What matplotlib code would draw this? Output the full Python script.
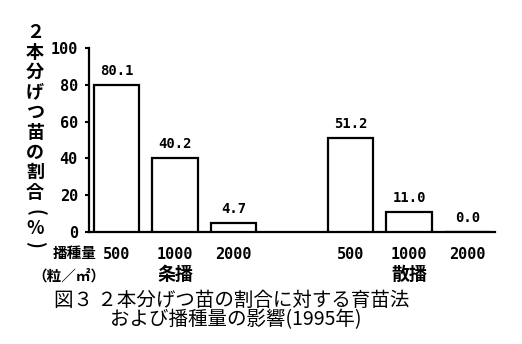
# coding: utf-8

"""
図3 2本分げつ苗の割合に対する育苗法および播種量の影響(1995年)
"""

import matplotlib
matplotlib.use("Agg")
import matplotlib.pyplot as plt
import matplotlib.transforms as mtransforms

# Data
rates = ["500", "1000", "2000", "500", "1000", "2000"]
values = [80.1, 40.2, 4.7, 51.2, 11.0, 0.0]
xpos = [0, 1, 2, 4, 5, 6]
groups = ["条播", "散播"]
group_xpos = [1, 5]
yticks = [0, 20, 40, 60, 80, 100]
ylabel_chars = ["２", "本", "分", "げ", "つ", "苗", "の", "割", "合", "(", "%", ")"]

JP = ["Noto Sans CJK JP", "DejaVu Sans"]
MONO = "DejaVu Sans Mono"

def main():
	fig = plt.figure(figsize=(5.22, 3.44), dpi=100)
	W, H = 522.0, 344.0
	ax = fig.add_axes([89 / W, 1 - 232 / H, (495 - 89) / W, (232 - 48) / H])

	# Bars
	ax.bar(xpos, values, width=0.77, color="white", edgecolor="black", linewidth=1.6, zorder=3)
	for x, v in zip(xpos, values):
		ax.annotate("%.1f" % v, (x, v), xytext=(0, 5), textcoords="offset points",
			ha="center", va="bottom", fontsize=10, fontfamily=MONO, fontweight="bold")

	# Axes
	ax.set_xlim(-0.47, 6.47)
	ax.set_ylim(0, 100)
	ax.set_yticks(yticks)
	ax.set_yticklabels([str(t) for t in yticks], fontfamily=MONO, fontweight="bold", fontsize=11)
	ax.set_xticks(xpos)
	ax.set_xticklabels(rates, fontfamily=MONO, fontweight="bold", fontsize=11)
	ax.tick_params(axis="y", length=3, width=1.5, pad=5)
	ax.tick_params(axis="x", length=0, pad=11)
	for s in ["top", "right"]:
		ax.spines[s].set_visible(False)
	for s in ["left", "bottom"]:
		ax.spines[s].set_linewidth(1.6)

	# Group labels
	trans = mtransforms.blended_transform_factory(ax.transData, fig.transFigure)
	for g, x in zip(groups, group_xpos):
		ax.text(x, 1 - 274 / H, g, transform=trans, ha="center", va="center",
			fontsize=13, fontfamily=JP, fontweight="bold")

	# Seeding rate label
	fig.text(97 / W, 1 - 253 / H, "播種量", ha="right", va="center",
		fontsize=10.5, fontfamily=JP, fontweight="bold")
	fig.text(69 / W, 1 - 276 / H, "（粒／㎡）", ha="center", va="center",
		fontsize=10.5, fontfamily=JP, fontweight="bold")

	# Vertical y label (parentheses turned for vertical writing)
	ys = [32 + 20 * i for i in range(9)] + [212, 228, 244]
	for c, y in zip(ylabel_chars, ys):
		rot = -90 if c in "()" else 0
		fig.text(35 / W, 1 - y / H, c, ha="center", va="center", rotation=rot,
			rotation_mode="anchor", fontsize=13, fontfamily=JP, fontweight="bold")

	# Title
	fig.text(232 / W, 1 - 300 / H, "図３ ２本分げつ苗の割合に対する育苗法", ha="center", va="center",
		fontsize=14, fontfamily=JP)
	fig.text(236 / W, 1 - 320 / H, "および播種量の影響(1995年)", ha="center", va="center",
		fontsize=14, fontfamily=JP)

	fig.savefig("out.png", dpi=100, facecolor="white")

if __name__ == "__main__":
	main()
